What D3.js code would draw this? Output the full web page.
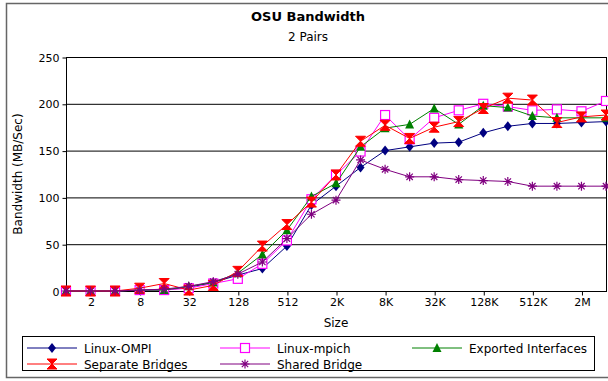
<!DOCTYPE html>
<html>
<head>
<meta charset="utf-8">
<script src="https://cdn.jsdelivr.net/npm/d3@7"></script>
<style>
  body { margin: 0; background: #fff; }
  svg { font-family: "DejaVu Sans", sans-serif; }
</style>
</head>
<body>
<svg width="608" height="381"></svg>
<script>
// message sizes 1 .. 4M (powers of two)
const sizes = d3.range(0, 23).map((i) => Math.pow(2, i));
const tickSizes = [2, 8, 32, 128, 512, 2048, 8192, 32768, 131072, 524288, 2097152];
const tickLabels = ["2", "8", "32", "128", "512", "2K", "8K", "32K", "128K", "512K", "2M"];
const yTicks = [0, 50, 100, 150, 200, 250];

const linuxOmpi = [0, 0, 0, 1, 1, 4, 9, 17, 24, 48, 92, 112, 132, 150, 154, 158, 159, 169, 176, 179, 179, 180, 181];
const linuxMpich = [0, 0, 0, 1, 1, 3, 8, 13, 29, 54, 98, 124, 149, 188, 162, 185, 193, 200, 197, 193, 194, 192, 203];
const exportedIf = [0, 0, 0, 1, 1, 5, 9, 19, 39, 65, 101, 115, 154, 174, 178, 195, 178, 198, 196, 187, 185, 185, 185];
const separateBr = [0, 0, 0, 3, 8, 1, 6, 21, 48, 71, 95, 124, 160, 177, 163, 175, 181, 195, 206, 204, 180, 186, 188];
const sharedBr = [0, 0, 0, 1, 2, 5, 10, 18, 31, 56, 82, 97, 140, 130, 122, 122, 119, 118, 117, 112, 112, 112, 112];

const series = [
  { name: "Linux-OMPI", values: linuxOmpi, color: "#000080", marker: "diamond" },
  { name: "Linux-mpich", values: linuxMpich, color: "#ff00ff", marker: "square" },
  { name: "Exported Interfaces", values: exportedIf, color: "#008000", marker: "triangle" },
  { name: "Separate Bridges", values: separateBr, color: "#ff0000", marker: "hourglass" },
  { name: "Shared Bridge", values: sharedBr, color: "#800080", marker: "star" }
];

const svg = d3.select("svg");
const plot = { left: 66, right: 606, top: 57, bottom: 291 };

// outer frame
svg.append("rect")
  .attr("x", 6.5).attr("y", 3.5)
  .attr("width", 620).attr("height", 374)
  .attr("fill", "none").attr("stroke", "#666").attr("stroke-width", 1.5);

const x = d3.scaleLog().base(2).domain([1, Math.pow(2, 22)]).range([plot.left, plot.right]);
const y = d3.scaleLinear().domain([0, 250]).range([plot.bottom, plot.top]);

// titles
svg.append("text").attr("x", 308).attr("y", 21)
  .attr("text-anchor", "middle").attr("font-size", 13).attr("font-weight", "bold")
  .text("OSU Bandwidth");
svg.append("text").attr("x", 308).attr("y", 41)
  .attr("text-anchor", "middle").attr("font-size", 12)
  .text("2 Pairs");

// gridlines
svg.append("g")
  .selectAll("line")
  .data(yTicks)
  .enter()
  .append("line")
  .attr("x1", plot.left).attr("x2", plot.right)
  .attr("y1", (d) => y(d) + 0.5).attr("y2", (d) => y(d) + 0.5)
  .attr("stroke", "#000").attr("stroke-width", 1);

// axes
const yAxis = svg.append("g")
  .attr("transform", `translate(${plot.left + 0.5},0.5)`)
  .call(d3.axisLeft(y).tickValues(yTicks).tickSize(4).tickPadding(3));
const xAxis = svg.append("g")
  .attr("transform", `translate(0.5,${plot.bottom + 0.5})`)
  .call(d3.axisBottom(x).tickValues(tickSizes).tickFormat((d, i) => tickLabels[i]).tickSize(4).tickPadding(3));
[yAxis, xAxis].forEach((a) => {
  a.selectAll("text").attr("font-size", 11).attr("font-family", "DejaVu Sans").attr("fill", "#000");
  a.select(".domain").remove();
});

// plot box
svg.append("rect")
  .attr("x", plot.left + 0.5).attr("y", plot.top + 0.5)
  .attr("width", plot.right - plot.left).attr("height", plot.bottom - plot.top)
  .attr("fill", "none").attr("stroke", "#000").attr("stroke-width", 1);

// axis labels
svg.append("text").attr("x", 336).attr("y", 327)
  .attr("text-anchor", "middle").attr("font-size", 12).text("Size");
svg.append("text")
  .attr("transform", "translate(22,174) rotate(-90)")
  .attr("text-anchor", "middle").attr("font-size", 12)
  .text("Bandwidth (MB/Sec)");

// marker drawing
function drawMarker(g, type, color) {
  if (type === "diamond") {
    g.append("path").attr("d", "M0,-5L4,0L0,5L-4,0Z").attr("fill", color);
  } else if (type === "square") {
    g.append("rect").attr("x", -4.5).attr("y", -4.5).attr("width", 9).attr("height", 9)
      .attr("fill", "#fff").attr("stroke", color).attr("stroke-width", 1.2);
  } else if (type === "triangle") {
    g.append("path").attr("d", "M0,-5L4.5,4L-4.5,4Z").attr("fill", color);
  } else if (type === "hourglass") {
    g.append("path").attr("d", "M-5,-5L5,-5L0,0L5,5L-5,5L0,0Z").attr("fill", color)
      .attr("stroke", color).attr("stroke-width", 1);
  } else if (type === "star") {
    const r = 4.5;
    const p = d3.range(4).map((k) => {
      const a = k * Math.PI / 4;
      return `M${-r * Math.cos(a)},${-r * Math.sin(a)}L${r * Math.cos(a)},${r * Math.sin(a)}`;
    }).join("");
    g.append("path").attr("d", p).attr("stroke", color).attr("stroke-width", 1.2);
  }
}

const line = d3.line()
  .x((d, i) => x(sizes[i]))
  .y((d) => y(d));

// series
series.forEach((s) => {
  const g = svg.append("g");
  g.append("path")
    .attr("d", line(s.values))
    .attr("fill", "none")
    .attr("stroke", s.color)
    .attr("stroke-width", 1);
  g.selectAll("g")
    .data(s.values)
    .enter()
    .append("g")
    .attr("transform", (d, i) => `translate(${x(sizes[i])},${y(d)})`)
    .each(function () { drawMarker(d3.select(this), s.marker, s.color); });
});

// legend
svg.append("rect")
  .attr("x", 22.5).attr("y", 336.5).attr("width", 572).attr("height", 34)
  .attr("fill", "#fff").attr("stroke", "#000").attr("stroke-width", 1);
const legendPos = [[27, 348], [220, 348], [412, 348], [27, 364], [220, 364]];
series.forEach((s, i) => {
  const [lx, ly] = legendPos[i];
  const g = svg.append("g").attr("transform", `translate(${lx},${ly})`);
  g.append("line").attr("x1", 0).attr("x2", 50).attr("y1", 0).attr("y2", 0)
    .attr("stroke", s.color).attr("stroke-width", 1);
  const m = g.append("g").attr("transform", "translate(25,0)");
  drawMarker(m, s.marker, s.color);
  g.append("text").attr("x", 57).attr("y", 4.5).attr("font-size", 12).text(s.name);
});
</script>
</body>
</html>
